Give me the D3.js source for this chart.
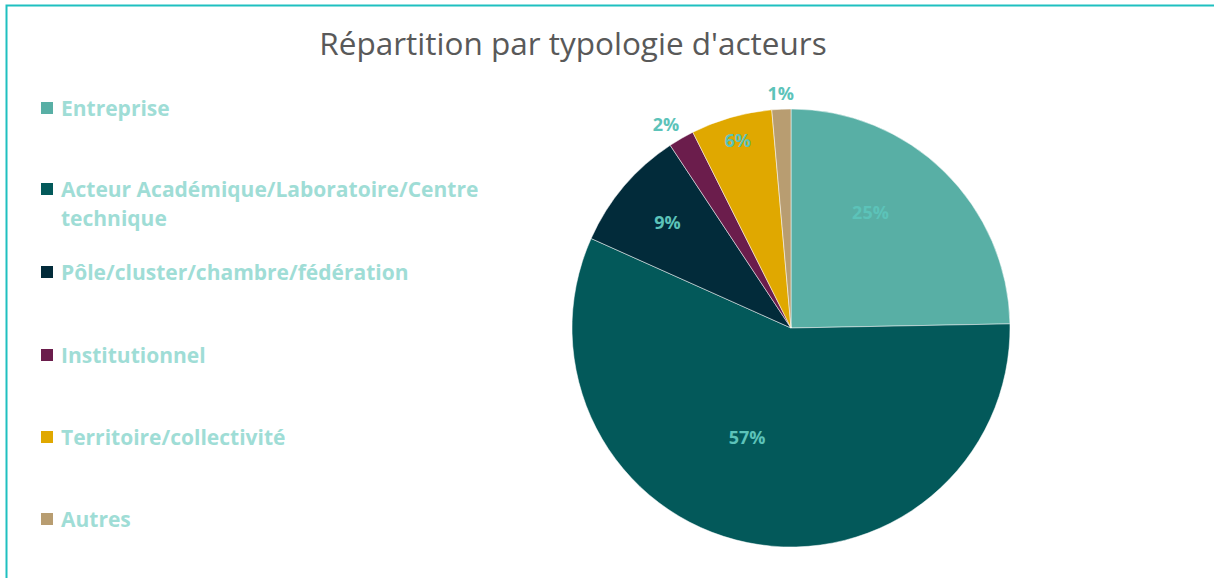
<!DOCTYPE html>
<html>
<head>
<meta charset="utf-8">
<script src="https://cdn.jsdelivr.net/npm/d3@7"></script>
<style>
  body { margin: 0; background: #fff; }
  svg { display: block; font-family: "Open Sans", sans-serif; }
</style>
</head>
<body>
<svg id="chart" width="1214" height="578"></svg>
<script>
const categories = [
  "Entreprise",
  "Acteur Académique/Laboratoire/Centre technique",
  "Pôle/cluster/chambre/fédération",
  "Institutionnel",
  "Territoire/collectivité",
  "Autres"
];
const values = [24.7, 57.0, 9.0, 1.9, 6.0, 1.4];
const valueLabels = ["25%", "57%", "9%", "2%", "6%", "1%"];
const colors = ["#58afa5", "#03595a", "#022b3a", "#6b1d4c", "#e0a800", "#b89d71"];
const legendLines = [
  ["Entreprise"],
  ["Acteur Académique/Laboratoire/Centre", "technique"],
  ["Pôle/cluster/chambre/fédération"],
  ["Institutionnel"],
  ["Territoire/collectivité"],
  ["Autres"]
];

const svg = d3.select("#chart");

// frame (only top and left edges are visible)
svg.append("rect")
  .attr("x", 6.5).attr("y", 5.5)
  .attr("width", 1300).attr("height", 700)
  .attr("fill", "none")
  .attr("stroke", "#1fc0c0")
  .attr("stroke-width", 2);

svg.append("text")
  .attr("x", 573).attr("y", 55)
  .attr("text-anchor", "middle")
  .attr("fill", "#595959")
  .style("font-size", "31.5px")
  .text("Répartition par typologie d'acteurs");

// legend
const legend = svg.append("g");
const legendY = [108, 189, 272, 355, 437, 519];
categories.forEach((c, i) => {
  const g = legend.append("g").attr("transform", `translate(41,${legendY[i]})`);
  g.append("rect")
    .attr("x", 0).attr("y", -6)
    .attr("width", 12).attr("height", 12)
    .attr("fill", colors[i]);
  g.append("text")
    .attr("x", 20).attr("y", 7.5)
    .attr("fill", "#9fddd6")
    .style("font-size", "21px")
    .style("font-weight", "bold")
    .selectAll("tspan")
    .data(legendLines[i])
    .join("tspan")
    .attr("x", 20)
    .attr("dy", (d, j) => j === 0 ? 0 : 29)
    .text(d => d);
});

// pie
const cx = 791, cy = 328, r = 219;
const pie = d3.pie().sort(null).value(d => d);
const arcs = pie(values);
const arc = d3.arc().innerRadius(0).outerRadius(r);
const pieG = svg.append("g").attr("transform", `translate(${cx},${cy})`);

pieG.selectAll("path")
  .data(arcs)
  .join("path")
  .attr("d", arc)
  .attr("fill", (d, i) => colors[i])
  .attr("stroke", "#fff")
  .attr("stroke-width", 0.5);

// labels: inside for big slices, outside for the small ones
const labelR = [0.64, 0.54, 0.74, 1.09, 0.89, 1.07];
const labelShift = [-9.9, 10.3, 0, -1.5, 0, 0]; // degrees
pieG.selectAll("text.lbl")
  .data(arcs)
  .join("text")
  .attr("class", "lbl")
  .attr("transform", (d, i) => {
    const rr = r * labelR[i];
    const a = (d.startAngle + d.endAngle) / 2 + labelShift[i] * Math.PI / 180;
    return `translate(${Math.sin(a) * rr},${-Math.cos(a) * rr})`;
  })
  .attr("text-anchor", "middle")
  .attr("dy", "0.35em")
  .attr("fill", "#5cc3b9")
  .style("font-size", "18px")
  .style("font-weight", "bold")
  .text((d, i) => valueLabels[i]);
</script>
</body>
</html>
